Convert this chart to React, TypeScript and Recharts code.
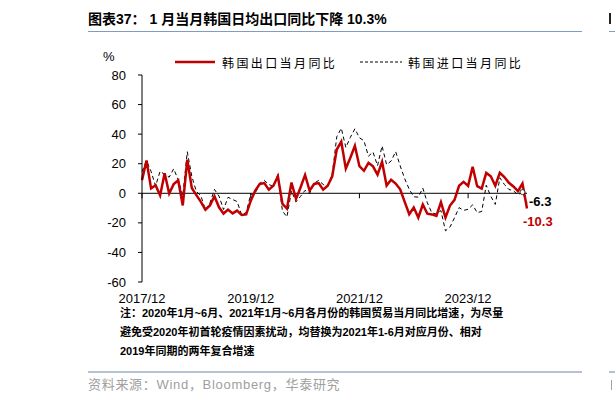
import React from 'react';
import { LineChart, Line, XAxis, YAxis, ReferenceLine, Legend } from 'recharts';

const months = [
  '2017/12',
  '2018/01', '2018/02', '2018/03', '2018/04', '2018/05', '2018/06', '2018/07', '2018/08', '2018/09', '2018/10', '2018/11', '2018/12',
  '2019/01', '2019/02', '2019/03', '2019/04', '2019/05', '2019/06', '2019/07', '2019/08', '2019/09', '2019/10', '2019/11', '2019/12',
  '2020/01', '2020/02', '2020/03', '2020/04', '2020/05', '2020/06', '2020/07', '2020/08', '2020/09', '2020/10', '2020/11', '2020/12',
  '2021/01', '2021/02', '2021/03', '2021/04', '2021/05', '2021/06', '2021/07', '2021/08', '2021/09', '2021/10', '2021/11', '2021/12',
  '2022/01', '2022/02', '2022/03', '2022/04', '2022/05', '2022/06', '2022/07', '2022/08', '2022/09', '2022/10', '2022/11', '2022/12',
  '2023/01', '2023/02', '2023/03', '2023/04', '2023/05', '2023/06', '2023/07', '2023/08', '2023/09', '2023/10', '2023/11', '2023/12',
  '2024/01', '2024/02', '2024/03', '2024/04', '2024/05', '2024/06', '2024/07', '2024/08', '2024/09', '2024/10', '2024/11', '2024/12',
  '2025/01',
];

const exportYoY = [
  8.9,
  22.2, 3.3, 5.5, -1.5, 13.5, -0.1, 6.2, 8.7, -8.2, 22.7, 3.6, -1.2,
  -5.8, -11.1, -8.2, -2.0, -9.5, -13.7, -11.0, -13.6, -11.7, -14.7, -14.3, -5.2,
  1.8, 6.3, 6.9, 2.4, 5.1, 11.5, -7.1, -10.4, 7.3, -3.8, 3.9, 12.4,
  1.8, 6.3, 6.9, 2.4, 5.1, 11.5, 29.6, 34.9, 16.7, 24.0, 32.1, 18.3,
  15.2, 20.6, 18.2, 12.6, 21.3, 5.2, 9.2, 6.6, 2.7, -5.8, -14.2, -9.6,
  -16.4, -7.6, -13.8, -14.3, -15.3, -6.0, -16.4, -8.3, -4.4, 5.1, 7.7, 5.0,
  18.0, 4.8, 3.1, 13.8, 11.5, 5.1, 13.9, 11.0, 7.1, 4.6, 1.4, 6.6,
  -10.3,
];

const importYoY = [
  14.7,
  22.0, 14.8, 5.0, 14.9, 12.7, 10.9, 16.6, 9.0, -1.8, 28.1, 11.4, 1.2,
  -1.7, -11.3, -6.6, 2.6, -1.9, -11.0, -2.7, -4.2, -5.6, -14.6, -13.0, -0.7,
  -0.2, 6.8, 8.7, 6.0, 4.6, 12.8, -11.9, -16.0, 1.6, -5.8, -2.1, 2.0,
  -0.2, 6.8, 8.7, 6.0, 4.6, 12.8, 38.2, 44.0, 31.0, 37.8, 43.6, 37.6,
  35.5, 25.1, 27.9, 18.6, 32.0, 19.4, 21.8, 28.2, 18.6, 9.9, 2.7, -2.4,
  -2.6, 3.5, -6.4, -13.3, -14.0, -11.7, -25.4, -22.8, -16.5, -9.7, -11.6, -10.8,
  -7.8, -13.1, -12.3, 5.4, -2.0, -7.5, 10.5, 6.0, 2.6, 1.7, -1.0, 0.8,
  -6.3,
];

const xTickLabels = ['2017/12', '2019/12', '2021/12', '2023/12'];
const yTickValues = [-60, -40, -20, 0, 20, 40, 60, 80];
const exportName = '韩国出口当月同比';
const importName = '韩国进口当月同比';
const titleText = '图表37： 1 月当月韩国日均出口同比下降 10.3%';
const noteLines = [
  '注：2020年1月~6月、2021年1月~6月各月份的韩国贸易当月同比增速，为尽量',
  '避免受2020年初首轮疫情因素扰动，均替换为2021年1-6月对应月份、相对',
  '2019年同期的两年复合增速',
];
const sourceText = '资料来源：Wind，Bloomberg，华泰研究';

const data = months.map((m, i) => ({ month: m, exp: exportYoY[i], imp: importYoY[i] }));

// layout
const W = 615;
const H = 403;
const PLOT_LEFT = 142;
const PLOT_RIGHT = 527;
const PLOT_TOP = 75;
const PLOT_BOTTOM = 282;
const Y_MIN = -60;
const Y_MAX = 80;
const ZERO_Y = PLOT_TOP + ((PLOT_BOTTOM - PLOT_TOP) * Y_MAX) / (Y_MAX - Y_MIN);
const SANS = "'Liberation Sans', Arial, 'Noto Sans CJK SC', sans-serif";
const CJK = "'Noto Sans CJK SC', sans-serif";
const RED = '#C00000';
const BLUE_LINE = '#7F9DC4';
const lastIdx = months.length - 1;

const XTick = (props: any) => {
  const { x, payload } = props;
  return (
    <g>
      <line x1={x} x2={x} y1={ZERO_Y} y2={ZERO_Y + 5} stroke="#000" strokeWidth={1} />
      <text x={x} y={PLOT_BOTTOM + 21} textAnchor="middle" fontSize={13} fontFamily={SANS} fill="#000">
        {payload.value}
      </text>
    </g>
  );
};

const makeEndLabel = (color: string, dx: number, dy: number) => (props: any) => {
  if (props.index !== lastIdx) return null;
  return (
    <text
      x={props.x + dx}
      y={props.y + dy}
      fill={color}
      fontSize={13}
      fontWeight="bold"
      fontFamily={SANS}
      dominantBaseline="central"
    >
      {props.value}
    </text>
  );
};

const importDot = (props: any) => {
  if (props.index !== lastIdx - 1) return <g key={`d${props.index}`} />;
  return (
    <circle key={`d${props.index}`} cx={props.cx} cy={props.cy} r={2.5} fill="#fff" stroke="#000" strokeWidth={0.8} />
  );
};

const LegendContent = () => (
  <svg width={360} height={20} style={{ display: 'block' }}>
    <line x1={0} x2={40} y1={10} y2={10} stroke={RED} strokeWidth={2.5} />
    <text x={47} y={10} dominantBaseline="central" fontSize={12} fontFamily={CJK} fill="#000" style={{ letterSpacing: '2.4px' }}>
      {exportName}
    </text>
    <line x1={185} x2={227} y1={10} y2={10} stroke="#000" strokeWidth={1} strokeDasharray="3 2" />
    <text x={233} y={10} dominantBaseline="central" fontSize={12} fontFamily={CJK} fill="#000" style={{ letterSpacing: '2.4px' }}>
      {importName}
    </text>
  </svg>
);

export default function App() {
  return (
    <div style={{ position: 'absolute', left: 0, top: 0, width: W, height: H, overflow: 'hidden', background: '#fff' }}>
      <div
        style={{
          position: 'absolute', left: 88, top: 10, fontSize: 14, fontWeight: 'bold', fontFamily: SANS,
          lineHeight: '18px', whiteSpace: 'nowrap', color: '#000',
        }}
      >
        {titleText}
      </div>
      <div style={{ position: 'absolute', left: 88, top: 31, width: 494, borderTop: `1.5px solid ${BLUE_LINE}` }} />
      <div style={{ position: 'absolute', left: 609, top: 13, width: 2, height: 11, background: '#222' }} />
      <div style={{ position: 'absolute', left: 609, top: 31, width: 20, borderTop: `1.5px solid ${BLUE_LINE}` }} />

      <div style={{ position: 'absolute', left: 103, top: 49, fontSize: 13, fontFamily: SANS, lineHeight: '16px' }}>%</div>

      <div style={{ position: 'absolute', left: 0, top: 0 }}>
        <LineChart
          width={W}
          height={H}
          data={data}
          margin={{ top: PLOT_TOP, right: W - PLOT_RIGHT, bottom: H - PLOT_BOTTOM - 30, left: 0 }}
        >
          <XAxis
            dataKey="month"
            ticks={xTickLabels}
            interval={0}
            tick={<XTick />}
            axisLine={false}
            tickLine={false}
            height={30}
          />
          <YAxis
            type="number"
            domain={[Y_MIN, Y_MAX]}
            ticks={yTickValues}
            width={PLOT_LEFT}
            tickSize={4}
            tickMargin={12}
            axisLine={{ stroke: '#000', strokeWidth: 1 }}
            tickLine={{ stroke: '#000', strokeWidth: 1 }}
            tick={{ fontSize: 13, fontFamily: SANS, fill: '#000' }}
            allowDataOverflow
          />
          <ReferenceLine y={0} stroke="#000" strokeWidth={1} />
          <Legend
            verticalAlign="middle"
            layout="horizontal"
            content={<LegendContent />}
            wrapperStyle={{ left: 175, top: 52, width: 360, height: 20 }}
          />
          <Line
            type="linear"
            dataKey="imp"
            name={importName}
            stroke="#000"
            strokeWidth={1}
            strokeDasharray="4 3"
            dot={importDot}
            activeDot={false}
            isAnimationActive={false}
            label={makeEndLabel('#000', 2, -1.5)}
          />
          <Line
            type="linear"
            dataKey="exp"
            name={exportName}
            stroke={RED}
            strokeWidth={2.5}
            dot={false}
            activeDot={false}
            isAnimationActive={false}
            label={makeEndLabel(RED, -4, 12.5)}
          />
        </LineChart>
      </div>

      <div
        style={{
          position: 'absolute', left: 120, top: 304, fontSize: 11, fontWeight: 'bold', fontFamily: SANS,
          lineHeight: '19px', whiteSpace: 'nowrap', color: '#000',
        }}
      >
        {noteLines.map((l, i) => (
          <div key={i}>{l}</div>
        ))}
      </div>

      <div style={{ position: 'absolute', left: 88, top: 371, width: 494, borderTop: '2px solid #B4C2D3' }} />
      <div style={{ position: 'absolute', left: 609, top: 371, width: 20, borderTop: '2px solid #B4C2D3' }} />
      <div
        style={{
          position: 'absolute', left: 88, top: 376, fontSize: 13, fontFamily: SANS, color: '#A0A0A0',
          lineHeight: '18px', whiteSpace: 'nowrap', letterSpacing: '0.7px',
        }}
      >
        {sourceText}
      </div>
      <div style={{ position: 'absolute', left: 611, top: 380, width: 4, height: 10, borderLeft: '1px solid #A0A0A0' }} />
    </div>
  );
}
